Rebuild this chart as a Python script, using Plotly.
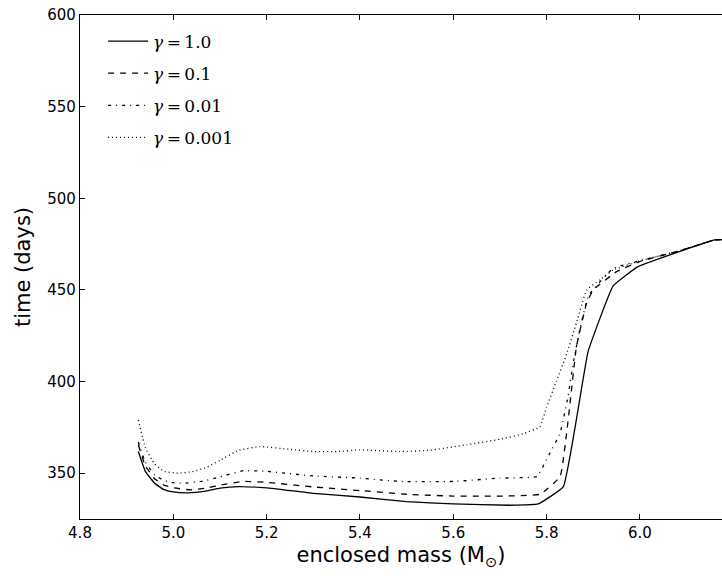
import plotly.graph_objects as go

# %% DATA
labels = ["<i>γ</i>\u2009=\u20091.0", "<i>γ</i>\u2009=\u20090.1",
          "<i>γ</i>\u2009=\u20090.01", "<i>γ</i>\u2009=\u20090.001"]

mass_g1 = [4.925, 4.94, 4.96, 4.98, 5.0, 5.03, 5.07, 5.1, 5.14, 5.2, 5.3, 5.4, 5.5, 5.6,
           5.72, 5.782, 5.836, 5.889, 5.943, 5.996, 6.08, 6.161, 6.18]
time_g1 = [361.8, 351.0, 344.5, 341.0, 339.8, 339.3, 340.2, 341.8, 342.7, 342.0, 339.0, 337.0,
           334.5, 333.2, 332.5, 333.2, 342.7, 416.3, 452.3, 462.7, 470.5, 477.3, 477.5]

mass_g01 = [4.925, 4.94, 4.96, 4.98, 5.0, 5.036, 5.07, 5.1, 5.15, 5.2, 5.3, 5.4, 5.5, 5.6,
            5.7, 5.786, 5.829, 5.864, 5.886, 5.9, 5.95, 6.0, 6.08, 6.161, 6.18]
time_g01 = [365.5, 354.0, 347.0, 343.5, 342.0, 340.9, 341.8, 343.5, 345.5, 345.0, 342.5, 340.5,
            338.5, 337.5, 337.5, 338.5, 348.2, 419.0, 443.0, 450.0, 460.0, 465.5, 471.0, 477.3, 477.5]

mass_g001 = [4.925, 4.94, 4.96, 4.98, 5.0, 5.02, 5.06, 5.1, 5.15, 5.2, 5.3, 5.4, 5.486, 5.6,
             5.7, 5.78, 5.796, 5.807, 5.829, 5.846, 5.857, 5.871, 5.89, 5.943, 6.007, 6.08,
             6.161, 6.18]
time_g001 = [367.0, 356.0, 349.0, 346.0, 344.8, 344.5, 345.5, 348.0, 351.4, 351.0, 348.5, 347.3,
             345.5, 345.5, 347.3, 348.2, 355.5, 360.9, 371.8, 391.8, 410.0, 428.0, 447.0,
             461.8, 466.4, 471.0, 477.3, 477.5]

mass_g0001 = [4.925, 4.94, 4.96, 4.98, 5.01, 5.04, 5.07, 5.1, 5.14, 5.186, 5.25, 5.3, 5.35,
              5.4, 5.486, 5.55, 5.629, 5.7, 5.75, 5.786, 5.8, 5.821, 5.843, 5.864, 5.886,
              5.914, 5.943, 6.0, 6.08, 6.161, 6.18]
time_g0001 = [379.0, 364.0, 355.0, 351.0, 350.0, 350.8, 353.0, 357.0, 362.5, 364.5, 363.0,
              361.8, 361.8, 362.7, 361.8, 362.5, 365.5, 368.5, 371.5, 375.4, 386.0, 400.0,
              415.0, 432.0, 450.0, 455.5, 460.9, 465.8, 471.0, 477.3, 477.5]

x_range = [4.8, 6.176]
y_range = [325, 600]
x_ticks = [4.8, 5.0, 5.2, 5.4, 5.6, 5.8, 6.0]
y_ticks = [350, 400, 450, 500, 550, 600]

# %% FIGURE
series = [
    (mass_g1, time_g1, "solid"),
    (mass_g01, time_g01, "6px,6px"),
    (mass_g001, time_g001, "3px,5px,1px,5px"),
    (mass_g0001, time_g0001, "1px,3px"),
]

fig = go.Figure()
for (x, y, dash), name in zip(series, labels):
    fig.add_trace(
        go.Scatter(
            x=x,
            y=y,
            name=name,
            mode="lines",
            line=dict(color="black", width=1.3, dash=dash, shape="spline", smoothing=0.3),
            legendgroup=name,
        )
    )

axis_common = dict(
    showline=True,
    linecolor="black",
    linewidth=1.3,
    ticks="inside",
    ticklen=5,
    tickwidth=1,
    tickcolor="black",
    showgrid=False,
    zeroline=False,
    automargin=False,
    tickfont=dict(family="DejaVu Sans", size=15, color="black"),
)

fig.update_xaxes(
    range=x_range,
    tickvals=x_ticks,
    ticktext=["%.1f" % v for v in x_ticks],
    mirror="ticks",
    title=dict(text="enclosed mass (M<sub>⊙</sub>)", font=dict(family="DejaVu Sans", size=21, color="black"), standoff=6),
    **axis_common,
)
# the right-hand frame is cut off in the original, so the y axis is not mirrored
fig.update_yaxes(
    range=y_range,
    tickvals=y_ticks,
    mirror=False,
    title=dict(text="time (days)", font=dict(family="DejaVu Sans", size=21, color="black"), standoff=10),
    **axis_common,
)

fig.update_layout(
    width=722,
    height=576,
    margin=dict(l=80, r=0, t=15, b=57),
    plot_bgcolor="white",
    paper_bgcolor="white",
    legend=dict(
        x=0.036,
        y=0.983,
        xanchor="left",
        yanchor="top",
        font=dict(family="DejaVu Serif", size=17, color="black"),
        bgcolor="rgba(0,0,0,0)",
        tracegroupgap=7,
        itemwidth=40,
    ),
)

# drop the default 8px body margin so the figure sits at the window's corner
fig.write_html(
    "out.html",
    config={"displayModeBar": False},
    post_script="document.body.style.margin = '0';",
)
